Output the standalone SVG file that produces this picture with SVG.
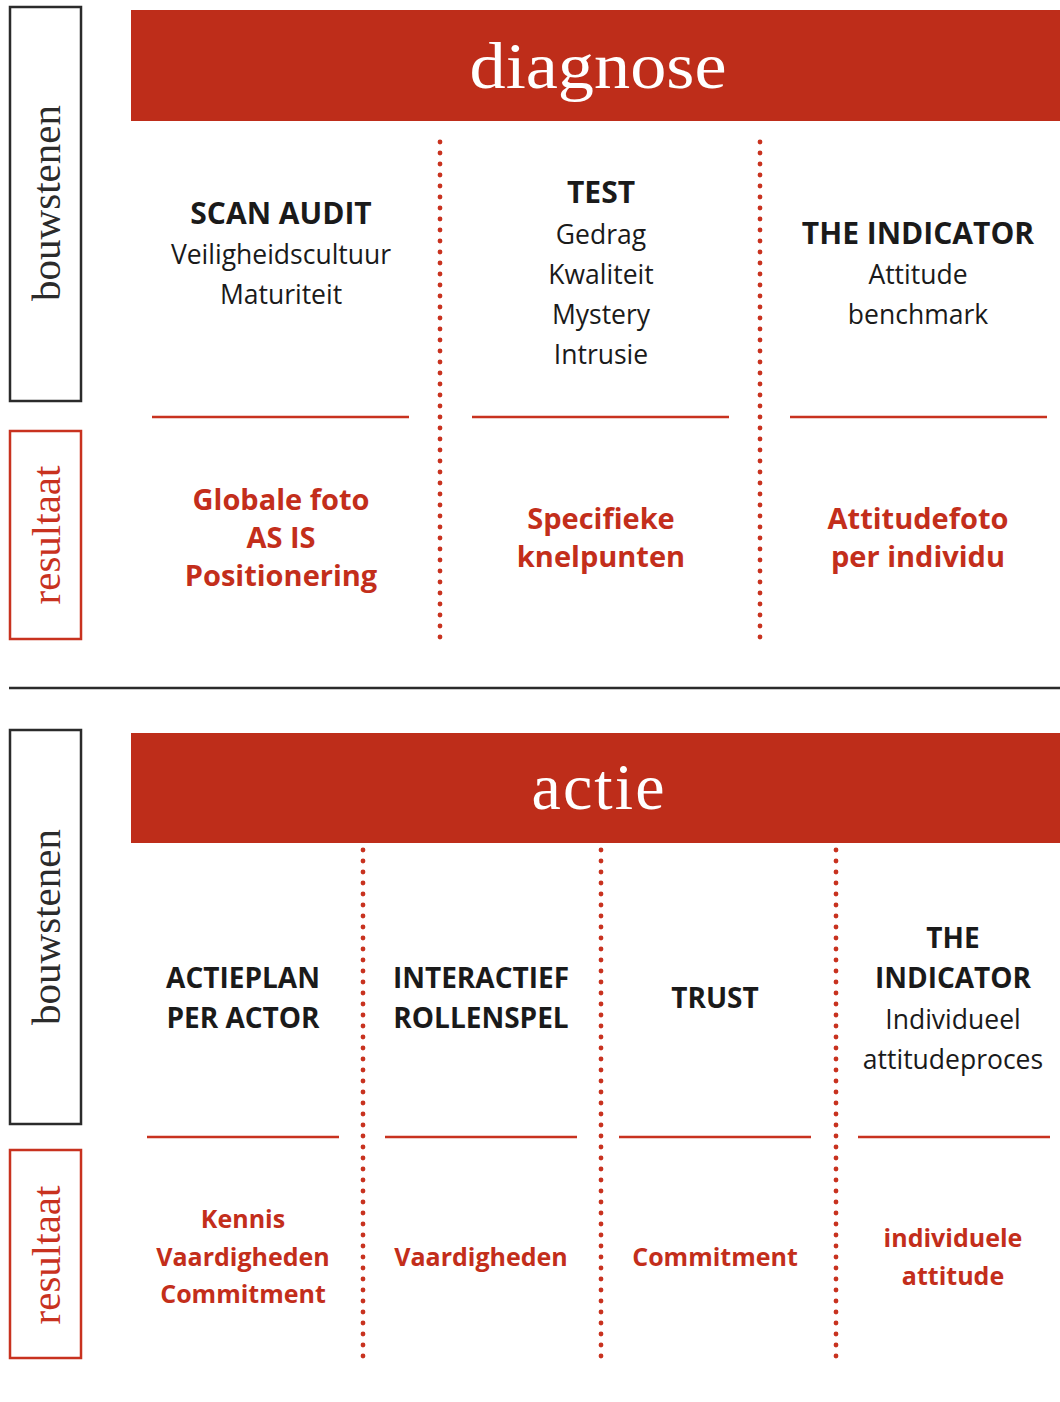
<svg xmlns="http://www.w3.org/2000/svg" width="1060" height="1402" viewBox="0 0 1060 1402">
<style>
.hdr{fill:#BE2D1A}
.htxt{font-family:"Liberation Serif",serif;font-size:66px;fill:#fff;text-anchor:middle}
.side{font-family:"Liberation Serif",serif;font-size:41px;text-anchor:middle}
.bk{fill:none;stroke:#2b2b2b;stroke-width:2.5}
.rb{fill:none;stroke:#C8321F;stroke-width:2.5}
.dot{stroke:#C8321F;stroke-width:4.8;stroke-linecap:round;stroke-dasharray:0 11;fill:none}
.rl{stroke:#C8321F;stroke-width:2.5}
.t{font-family:"Open Sans","Noto Sans",sans-serif;text-anchor:middle;fill:#1a1a1a}
.b{font-weight:bold;font-size:28px}
.bt{font-weight:bold;font-size:30px}
.n{font-size:26.5px}
.r{font-family:"Open Sans","Noto Sans",sans-serif;text-anchor:middle;fill:#C32E1B;font-weight:bold}
</style>
<g id="side-labels">
<rect class="bk" x="10" y="7" width="71" height="394"/>
<text class="side" transform="translate(60,203) rotate(-90)" fill="#2b2b2b">bouwstenen</text>
<rect class="rb" x="10" y="431" width="71" height="208"/>
<text class="side" transform="translate(60,535) rotate(-90)" fill="#C8321F">resultaat</text>
<rect class="bk" x="10" y="730" width="71" height="394"/>
<text class="side" transform="translate(60,927) rotate(-90)" fill="#2b2b2b">bouwstenen</text>
<rect class="rb" x="10" y="1150" width="71" height="208"/>
<text class="side" transform="translate(60,1255) rotate(-90)" fill="#C8321F">resultaat</text>
</g>
<line x1="9" y1="688" x2="1060" y2="688" stroke="#2b2b2b" stroke-width="2.5"/>
<g id="header-diagnose">
<rect class="hdr" x="131" y="10" width="929" height="111"/>
<text class="htxt" x="598" y="88" textLength="257" lengthAdjust="spacingAndGlyphs">diagnose</text>
</g>
<g id="header-actie">
<rect class="hdr" x="131" y="733" width="929" height="110"/>
<text class="htxt" x="598" y="809" textLength="133" lengthAdjust="spacing">actie</text>
</g>
<g id="connectors">
<line class="dot" x1="440" y1="142" x2="440" y2="642"/>
<line class="dot" x1="760" y1="142" x2="760" y2="642"/>
<line class="dot" x1="363" y1="850" x2="363" y2="1363"/>
<line class="dot" x1="601" y1="850" x2="601" y2="1363"/>
<line class="dot" x1="836" y1="850" x2="836" y2="1363"/>
<line class="rl" x1="152" y1="417" x2="409" y2="417"/>
<line class="rl" x1="472" y1="417" x2="729" y2="417"/>
<line class="rl" x1="790" y1="417" x2="1047" y2="417"/>
<line class="rl" x1="147" y1="1137" x2="339" y2="1137"/>
<line class="rl" x1="385" y1="1137" x2="577" y2="1137"/>
<line class="rl" x1="619" y1="1137" x2="811" y2="1137"/>
<line class="rl" x1="858" y1="1137" x2="1050" y2="1137"/>
</g>
<g id="scan-audit">
<text class="t bt" x="281" y="224">SCAN AUDIT</text>
<text class="t n" x="281" y="264">Veiligheidscultuur</text>
<text class="t n" x="281" y="304">Maturiteit</text>
</g>
<g id="test">
<text class="t bt" x="601" y="203">TEST</text>
<text class="t n" x="601" y="244">Gedrag</text>
<text class="t n" x="601" y="284">Kwaliteit</text>
<text class="t n" x="601" y="324">Mystery</text>
<text class="t n" x="601" y="364">Intrusie</text>
</g>
<g id="the-indicator-1">
<text class="t bt" x="918" y="244">THE INDICATOR</text>
<text class="t n" x="918" y="284">Attitude</text>
<text class="t n" x="918" y="324">benchmark</text>
</g>
<g id="res-globale">
<text class="r" font-size="29" x="281" y="510">Globale foto</text>
<text class="r" font-size="29" x="281" y="548">AS IS</text>
<text class="r" font-size="29" x="281" y="586">Positionering</text>
</g>
<g id="res-specifieke">
<text class="r" font-size="29" x="601" y="529">Specifieke</text>
<text class="r" font-size="29" x="601" y="567">knelpunten</text>
</g>
<g id="res-attitudefoto">
<text class="r" font-size="29" x="918" y="529">Attitudefoto</text>
<text class="r" font-size="29" x="918" y="567">per individu</text>
</g>
<g id="actieplan">
<text class="t b" x="243" y="988">ACTIEPLAN</text>
<text class="t b" x="243" y="1028">PER ACTOR</text>
</g>
<g id="rollenspel">
<text class="t b" x="481" y="988">INTERACTIEF</text>
<text class="t b" x="481" y="1028">ROLLENSPEL</text>
</g>
<g id="trust">
<text class="t b" x="715" y="1008">TRUST</text>
</g>
<g id="the-indicator-2">
<text class="t b" x="953" y="948">THE</text>
<text class="t b" x="953" y="988">INDICATOR</text>
<text class="t n" x="953" y="1029">Individueel</text>
<text class="t n" x="953" y="1069">attitudeproces</text>
</g>
<g id="res-kennis">
<text class="r" font-size="25" x="243" y="1228">Kennis</text>
<text class="r" font-size="25" x="243" y="1266">Vaardigheden</text>
<text class="r" font-size="25" x="243" y="1303">Commitment</text>
</g>
<g id="res-vaardigheden">
<text class="r" font-size="25" x="481" y="1266">Vaardigheden</text>
</g>
<g id="res-commitment">
<text class="r" font-size="25" x="715" y="1266">Commitment</text>
</g>
<g id="res-individuele">
<text class="r" font-size="25" x="953" y="1247">individuele</text>
<text class="r" font-size="25" x="953" y="1285">attitude</text>
</g>
</svg>
